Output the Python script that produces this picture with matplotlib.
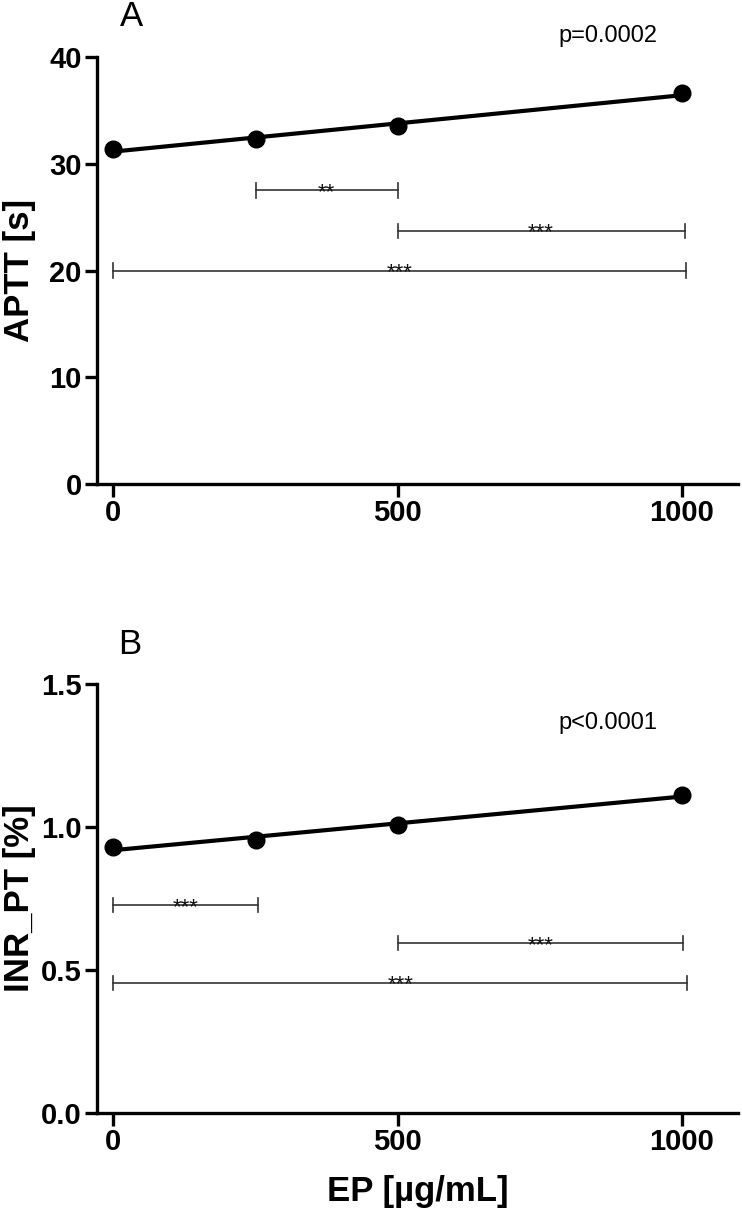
import numpy as np
import matplotlib.pyplot as plt

plt.rcParams['font.family'] = ['Liberation Sans', 'DejaVu Sans']

dose = [0, 250, 500, 1000]
aptt = [31.4, 32.3, 33.5, 36.6]
inr_pt = [0.93, 0.955, 1.007, 1.112]

# significance brackets: (start, end, height, stars)
aptt_brackets = [(250, 500, 27.5, "**"), (500, 1005, 23.7, "***"), (0, 1008, 20.0, "***")]
inr_brackets = [(0, 255, 0.727, "***"), (500, 1003, 0.594, "***"), (0, 1010, 0.455, "***")]

x_ticks = [0, 500, 1000]
aptt_ticks = [0, 10, 20, 30, 40]
inr_ticks = [0.0, 0.5, 1.0, 1.5]

W, H = 742, 1213
fig = plt.figure(figsize=(W / 100, H / 100), dpi=100)


def panel(rect, values, ymax, yticks, fmt, ylabel, brackets, cap, letter, letter_xy, ptext, p_xy):
    ax = fig.add_axes(rect)
    ax.set_xlim(-29, 1099)
    ax.set_ylim(0, ymax)

    # linear fit through the means
    slope, icpt = np.polyfit(dose, values, 1)
    fx = np.array([0, 1000])
    ax.plot(fx, slope * fx + icpt, color='black', lw=3.0, solid_capstyle='butt', zorder=3)
    ax.plot(dose, values, 'o', color='black', ms=12, zorder=4)

    for x1, x2, yb, stars in brackets:
        ax.plot([x1, x2], [yb, yb], color='#333333', lw=1.2)
        for xe in (x1, x2):
            ax.plot([xe, xe], [yb - cap, yb + cap], color='#333333', lw=1.2)
        ax.annotate(stars, xy=((x1 + x2) / 2, yb), xytext=(0, -5.5),
                    textcoords='offset points', ha='center', va='baseline',
                    fontsize=16, color='#111111')

    for side in ('top', 'right'):
        ax.spines[side].set_visible(False)
    for side in ('left', 'bottom'):
        ax.spines[side].set_linewidth(2.4)

    ax.set_xticks(x_ticks)
    ax.set_yticks(yticks)
    ax.set_yticklabels([fmt.format(t) for t in yticks])
    ax.tick_params(direction='out', length=9, width=2.4, labelsize=21, pad=2)
    plt.setp(ax.get_xticklabels() + ax.get_yticklabels(), fontweight='bold')

    fig.text(20 / W, rect[1] + rect[3] / 2, ylabel, rotation=90, ha='center', va='center',
             fontsize=25, fontweight='bold')
    fig.text(letter_xy[0] / W, 1 - letter_xy[1] / H, letter, ha='center', va='center', fontsize=25)
    fig.text(p_xy[0] / W, 1 - p_xy[1] / H, ptext, ha='center', va='center', fontsize=17)
    return ax


left = 97 / W
width = (738 - 97) / W
ax1 = panel([left, 1 - 484 / H, width, (484 - 57) / H], aptt, 40, aptt_ticks, "{:.0f}",
            "APTT [s]", aptt_brackets, 0.7, "A", (131, 17), "p=0.0002", (608, 36))
ax2 = panel([left, 1 - 1113 / H, width, (1113 - 684) / H], inr_pt, 1.5, inr_ticks, "{:.1f}",
            "INR_PT [%]", inr_brackets, 0.025, "B", (130, 645), "p<0.0001", (608, 723))

fig.text((97 + 738) / 2 / W, 1 - 1192 / H, "EP [µg/mL]", ha='center', va='center',
         fontsize=25, fontweight='bold')

fig.savefig('out.png', dpi=100)
